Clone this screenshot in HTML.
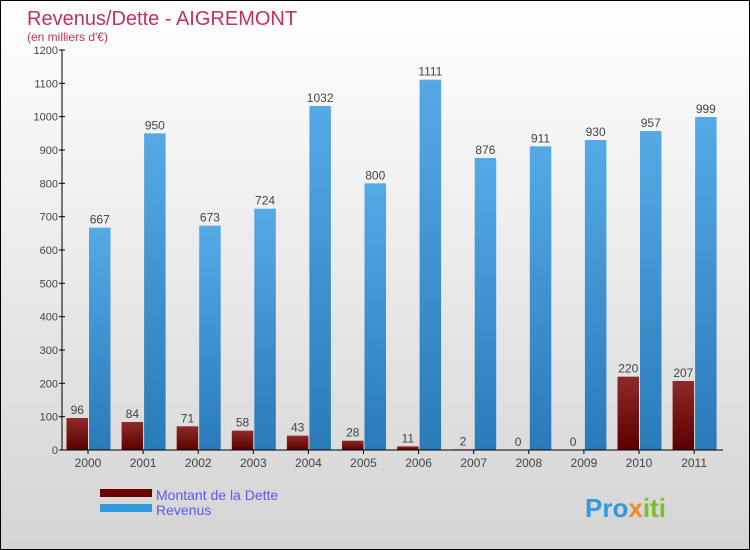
<!DOCTYPE html>
<html><head><meta charset="utf-8"><style>
body{margin:0;}
#c{width:748px;height:548px;border:1px solid #000;background:linear-gradient(#ffffff,#d4d4d4);position:relative;font-family:"Liberation Sans",sans-serif;overflow:hidden}
</style></head><body>
<div id="c">
<svg id="s" width="748" height="548" xmlns="http://www.w3.org/2000/svg">
<defs>
<linearGradient id="gd" x1="0" y1="0" x2="0" y2="1"><stop offset="0" stop-color="#8f2a2a"/><stop offset="1" stop-color="#5a0000"/></linearGradient>
<linearGradient id="gr" x1="0" y1="0" x2="0" y2="1"><stop offset="0" stop-color="#55aae6"/><stop offset="1" stop-color="#2a7ab8"/></linearGradient>
</defs>
<text x="26" y="24" font-size="20" fill="#c4305e">Revenus/Dette - AIGREMONT</text>
<text x="26" y="40" font-size="12" fill="#c4305e">(en milliers d'€)</text>
<g id="g"></g>
<rect x="99" y="488" width="52" height="8" fill="#6a0000"/>
<rect x="99" y="503" width="52" height="8" fill="#3399dd"/>
<text x="155" y="499" font-size="14" fill="#5a5aee">Montant de la Dette</text>
<text x="155" y="514" font-size="14" fill="#5a5aee">Revenus</text>
<text x="584" y="516" font-size="26" font-weight="bold" fill="#3399dd">Pro<tspan fill="#f08a1c">x</tspan><tspan fill="#7cbf2a">iti</tspan></text>
</svg>
</div>
<script>
const years=["2000","2001","2002","2003","2004","2005","2006","2007","2008","2009","2010","2011"];
const dette=[96,84,71,58,43,28,11,2,0,0,220,207];
const revenus=[667,950,673,724,1032,800,1111,876,911,930,957,999];
const yTicks=[0,100,200,300,400,500,600,700,800,900,1000,1100,1200];
const NS="http://www.w3.org/2000/svg";
const g=document.getElementById('g');
const x0=61,yb=449,yt=49,ymax=1200,step=55.1,bw=21.5;
function y(v){return yb-(v/ymax)*(yb-yt);}
function cx(i){return x0+26+i*step;}
function mk(t,a,txt){const e=document.createElementNS(NS,t);for(const k in a)e.setAttribute(k,a[k]);if(txt!==undefined)e.textContent=txt;g.appendChild(e);return e;}
yTicks.forEach(v=>{
 const l=mk('line',{x1:x0-3,x2:x0+3,y1:y(v),y2:y(v),stroke:'#000'});
 
 
 const t=mk('text',{x:x0-4,y:y(v)+4,'font-size':11,'text-anchor':'end',fill:'#444'},v);
 
 
});
years.forEach((yr,i)=>{
 const c=cx(i);
 const hd=Math.max(yb-y(dette[i]),0);
 const b1=mk('rect',{x:c-bw,y:y(dette[i]),width:bw,height:hd,fill:'url(#gd)'});
 
 
 const b2=mk('rect',{x:c+1,y:y(revenus[i]),width:bw,height:yb-y(revenus[i]),fill:'url(#gr)'});
 
 
 const t1=mk('text',{x:c-bw/2,y:y(dette[i])-4,'font-size':12,'text-anchor':'middle',fill:'#444'},dette[i]);
 
 
 const t2=mk('text',{x:c+1+bw/2,y:y(revenus[i])-4,'font-size':12,'text-anchor':'middle',fill:'#444'},revenus[i]);
 
 
 const tk=mk('line',{x1:c,x2:c,y1:yb,y2:yb+4,stroke:'#000'});
 
 
 const xl=mk('text',{x:c,y:yb+17,'font-size':12,'text-anchor':'middle',fill:'#444'},yr);
 
 
});
const ya=mk('line',{x1:x0,x2:x0,y1:yt,y2:yb,stroke:'#000'});


const xa=mk('line',{x1:x0,x2:722,y1:yb,y2:yb,stroke:'#000'});


</script>
</body></html>
